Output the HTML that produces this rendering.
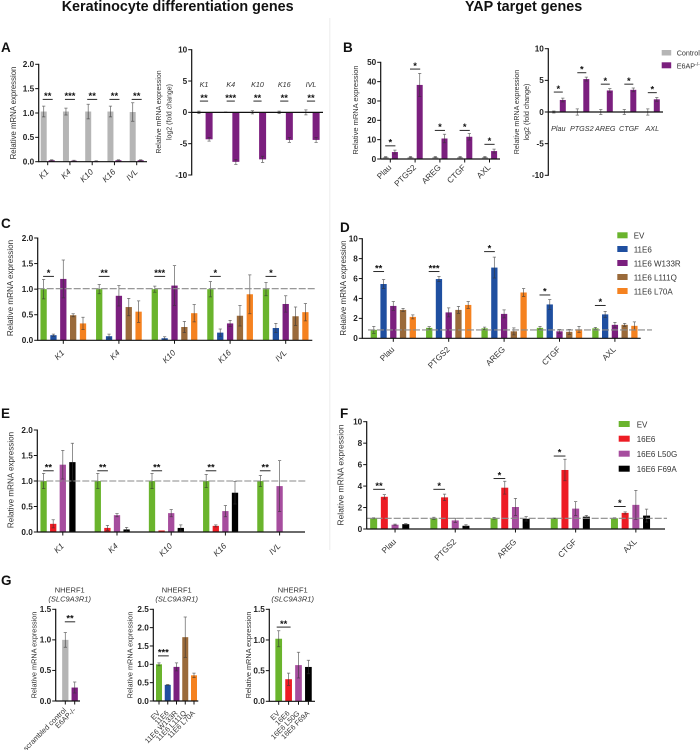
<!DOCTYPE html>
<html lang="en">
<head>
<meta charset="utf-8">
<title>Keratinocyte differentiation and YAP target genes</title>
<style>
html,body{margin:0;padding:0;background:#fff;}
#figure{display:block;width:700px;height:750px;filter:blur(0.3px);font-family:"Liberation Sans",sans-serif;}
text{font-family:"Liberation Sans",sans-serif;fill:#333;}
.head{font-size:14.35px;font-weight:bold;fill:#111;}
.letter{font-size:13.5px;font-weight:bold;fill:#111;}
.leg{font-size:8px;fill:#333;}
.legb{font-size:7.2px;fill:#333;}
</style>
</head>
<body>
<svg id="figure" xmlns="http://www.w3.org/2000/svg" width="700" height="750" viewBox="0 0 700 750">
  <text class="head" x="61.7" y="11">Keratinocyte differentiation genes</text>
  <text class="head" x="465" y="11">YAP target genes</text>
  <rect x="329.3" y="18" width="1" height="532" fill="#ececec"/>
  <text class="letter" x="1" y="52">A</text>
  <text class="letter" x="343" y="52">B</text>
  <text class="letter" x="1" y="228">C</text>
  <text class="letter" x="340" y="232">D</text>
  <text class="letter" x="1" y="418">E</text>
  <text class="letter" x="340" y="418">F</text>
  <text class="letter" x="1" y="585">G</text>

  <g>
    <g><rect x="661.7" y="50" width="9.5" height="5.5" fill="#b5b5b5"/><text class="legb" x="676.7" y="55.5">Control</text></g>
    <g><rect x="661.7" y="62.3" width="9.5" height="6" fill="#7b1f7e"/><text class="legb" x="676.7" y="68.3">E6AP<tspan font-size="5" dy="-2.5">-/-</tspan></text></g>
  </g>
  <g>
    <g><rect x="617.3" y="232.3" width="10.3" height="6" fill="#6ab42d"/><text class="leg" x="633.7" y="238.5">EV</text></g>
    <g><rect x="617.3" y="246" width="10.3" height="6" fill="#1f4fa0"/><text class="leg" x="633.7" y="252.5">11E6</text></g>
    <g><rect x="617.3" y="260" width="10.3" height="6" fill="#7b1f7e"/><text class="leg" x="633.7" y="266.5">11E6 W133R</text></g>
    <g><rect x="617.3" y="274" width="10.3" height="6" fill="#9a6a3a"/><text class="leg" x="633.7" y="280.5">11E6 L111Q</text></g>
    <g><rect x="617.3" y="288" width="10.3" height="6" fill="#f58220"/><text class="leg" x="633.7" y="294.5">11E6 L70A</text></g>
  </g>
  <g>
    <g><rect x="618.7" y="421" width="11" height="6" fill="#6ab42d"/><text class="leg" x="636.7" y="427.5">EV</text></g>
    <g><rect x="618.7" y="435.7" width="11" height="6" fill="#ed1c24"/><text class="leg" x="636.7" y="442">16E6</text></g>
    <g><rect x="618.7" y="450.7" width="11" height="6" fill="#a64d9e"/><text class="leg" x="636.7" y="457">16E6 L50G</text></g>
    <g><rect x="618.7" y="465.7" width="11" height="6" fill="#000"/><text class="leg" x="636.7" y="472">16E6 F69A</text></g>
  </g>
</svg>
<script>
// ---------- shared categories ----------
const keratinCategories = ['K1','K4','K10','K16','IVL'];
const yapCategories = ['Plau','PTGS2','AREG','CTGF','AXL'];

// ---------- tick arrays ----------
const ticksK2 = [0,0.5,1,1.5,2];
const ticksK2Labels = ['0.0','0.5','1.0','1.5','2.0'];
const ticksLog = [-10,-5,0,5,10];
const ticksLogLabels = ['-10','-5','0','5','10'];
const ticksB1 = [0,10,20,30,40,50];
const ticksB1Labels = ['0','10','20','30','40','50'];
const ticks10 = [0,2,4,6,8,10];
const ticks10Labels = ['0','2','4','6','8','10'];
const ticksG15 = [0,0.5,1,1.5];
const ticksG15Labels = ['0.0','0.5','1.0','1.5'];
const ticksG25 = [0,0.5,1,1.5,2,2.5];
const ticksG25Labels = ['0.0','0.5','1.0','1.5','2.0','2.5'];

// ---------- panel A left ----------
const a1Control = [1.03,1.03,1.03,1.03,1.02];
const a1ControlErr = [0.11,0.07,0.15,0.11,0.19];
const a1E6ap = [0.03,0.02,0.01,0.03,0.03];
const a1E6apErr = [0.01,0.01,0.01,0.01,0.01];
const a1Stars = ['**','***','**','**','**'];
const a1SigLevels = [1.28,1.28,1.28,1.28,1.28];

// ---------- panel A right ----------
const a2Control = [0,0,0,0,0];
const a2ControlErr = [0.2,0.05,0.25,0.2,0.4];
const a2E6ap = [-4.3,-7.9,-7.5,-4.4,-4.4];
const a2E6apErr = [0.3,0.4,0.5,0.4,0.4];
const a2Stars = ['**','***','**','**','**'];
const a2SigLevels = [1.8,1.8,1.8,1.8,1.8];

// ---------- panel B left ----------
const b1Control = [1,1,1,1,1];
const b1ControlErr = [0.2,0.3,0.3,0.3,0.3];
const b1E6ap = [3.6,38.3,10.6,11.5,4.1];
const b1E6apErr = [1,6,2.2,1.7,1];
const b1Stars = ['*','*','*','*','*'];
const b1SigLevels = [6.8,46.5,14.8,14.8,7.6];

// ---------- panel B right ----------
const b2Control = [0,0,0,0,0];
const b2ControlErr = [0.15,0.5,0.4,0.4,0.5];
const b2E6ap = [1.9,5.2,3.4,3.5,2.0];
const b2E6apErr = [0.3,0.3,0.3,0.3,0.3];
const b2Stars = ['*','*','*','*','*'];
const b2SigLevels = [3.15,6.2,4.4,4.4,3.05];

// ---------- panel C ----------
const cEv = [1,1,1,1,1];
const cEvErr = [0.19,0.09,0.06,0.15,0.13];
const c11e6 = [0.1,0.08,0.04,0.15,0.24];
const c11e6Err = [0.02,0.04,0.03,0.07,0.09];
const cW133r = [1.2,0.87,1.07,0.33,0.71];
const cW133rErr = [0.37,0.2,0.39,0.06,0.16];
const cL111q = [0.49,0.65,0.26,0.48,0.47];
const cL111qErr = [0.03,0.17,0.11,0.2,0.18];
const cL70a = [0.33,0.56,0.53,0.9,0.55];
const cL70aErr = [0.12,0.21,0.17,0.38,0.17];
const cStars = ['*','**','***','*','*'];
const cSigLevels = [1.25,1.25,1.25,1.25,1.25];
const cReference = [1.01];

// ---------- panel D ----------
const dEv = [0.85,1.05,1.0,1.05,1.0];
const dEvErr = [0.35,0.12,0.12,0.15,0.1];
const d11e6 = [5.45,5.95,7.1,3.4,2.4];
const d11e6Err = [0.45,0.25,1.05,0.5,0.3];
const dW133r = [3.25,2.6,2.45,0.7,1.35];
const dW133rErr = [0.45,0.45,0.4,0.2,0.25];
const dL111q = [2.85,2.85,0.7,0.65,1.35];
const dL111qErr = [0.15,0.35,0.35,0.25,0.15];
const dL70a = [2.15,3.35,4.6,0.9,1.25];
const dL70aErr = [0.2,0.35,0.4,0.3,0.4];
const dStars = ['**','***','*','*','*'];
const dSigLevels = [6.7,6.7,8.7,4.35,3.3];
const dReference = [0.84];

// ---------- panel E ----------
const eEv = [1,1,1,1,1];
const eEvErr = [0.15,0.15,0.15,0.13,0.11];
const e16e6 = [0.16,0.08,0.03,0.12,0];
const e16e6Err = [0.08,0.05,0,0.02,0];
const eL50g = [1.32,0.33,0.37,0.41,0.9];
const eL50gErr = [0.28,0.03,0.07,0.11,0.5];
const eF69a = [1.37,0.05,0.08,0.77,0];
const eF69aErr = [0.37,0.04,0.06,0.22,0];
const eStars = ['**','**','**','**','**'];
const eSigLevels = [1.2,1.2,1.2,1.2,1.2];
const eReference = [1];

// ---------- panel F ----------
const fEv = [1,1,1,1,1];
const fEvErr = [0.05,0.1,0.08,0.03,0.05];
const f16e6 = [3,2.95,3.85,5.5,1.5];
const f16e6Err = [0.2,0.3,0.6,1,0.1];
const fL50g = [0.4,0.8,2.05,1.9,2.25];
const fL50gErr = [0.05,0.2,0.8,0.65,1.35];
const fF69a = [0.45,0.3,0.95,1.15,1.25];
const fF69aErr = [0.05,0.1,0.2,0.12,0.6];
const fStars = ['**','*','*','*','*'];
const fSigLevels = [3.7,3.7,4.7,6.8,2.1];
const fReference = [1];

// ---------- panel G ----------
const g1Categories = ['scrambled control','E6AP-/-'];
const g1Values = [1.0,0.22];
const g1Errors = [0.12,0.09];
const g1Stars = ['**'];
const g1SigLevels = [1.295];
const g2Categories = ['EV','11E6','11E6 W133R','11E6 L111Q','11E6 L70A'];
const g2Values = [1,0.44,0.93,1.74,0.7];
const g2Errors = [0.04,0.01,0.11,0.55,0.06];
const g2Stars = ['***'];
const g2SigLevels = [1.23];
const g3Categories = ['EV','16E6','16E6 L50G','16E6 F69A'];
const g3Values = [1.02,0.36,0.59,0.56];
const g3Errors = [0.13,0.1,0.21,0.11];
const g3Stars = ['**'];
const g3SigLevels = [1.21];

// ---------- palette ----------
const GRAY='#b5b5b5', PURPLE='#7b1f7e', GREEN='#6ab42d', BLUE='#1f4fa0', BROWN='#9a6a3a', ORANGE='#f58220', RED='#ed1c24', LILAC='#a64d9e', BLACK='#000000';

const SVGNS = 'http://www.w3.org/2000/svg';
const root = document.getElementById('figure');

function mk(parent, tag, attrs, text) {
  const el = document.createElementNS(SVGNS, tag);
  for (const k in attrs) el.setAttribute(k, attrs[k]);
  if (text !== undefined) el.textContent = text;
  parent.appendChild(el);
  return el;
}

function drawChart(c) {
  const g = mk(root, 'g', {});
  
  

  const yScale = v => c.yBottom + (v - c.domain[0]) / (c.domain[1] - c.domain[0]) * (c.yTop - c.yBottom);
  const center = i => c.firstCenter + i * c.step;
  const nSer = c.series.length;
  const barX = (i, j) => center(i) + (j - (nSer - 1) / 2) * c.spacing;
  const zeroY = yScale(0);

  // bars + error bars
  c.series.forEach((s, j) => {
    s.values.forEach((v, i) => {
      const x = barX(i, j);
      const y1 = yScale(v);
      const bar = mk(g, 'rect', {x: x - c.barWidth / 2, y: Math.min(y1, zeroY), width: c.barWidth, height: Math.abs(y1 - zeroY), fill: s.colors ? s.colors[i] : s.color});
      
      
      const e = s.errors[i];
      if (e > 0) {
        const eb = mk(g, 'path', {d: 'M' + (x - 1.6) + ' ' + yScale(v + e) + 'H' + (x + 1.6) + 'M' + x + ' ' + yScale(v + e) + 'V' + yScale(v - e) + 'M' + (x - 1.6) + ' ' + yScale(v - e) + 'H' + (x + 1.6), stroke: '#333', 'stroke-opacity': 0.72, 'stroke-width': 0.75, fill: 'none'});
        
        
      }
    });
  });

  // reference line
  if (c.reference) {
    c.reference.forEach(r => {
      const ln = mk(g, 'line', {x1: c.refStart, x2: c.refEnd, y1: yScale(r), y2: yScale(r), stroke: '#8a8a8a', 'stroke-width': 1.1, 'stroke-dasharray': '7 2'});
      
      
    });
  }

  // axes
  const yAxis = mk(g, 'line', {x1: c.axisX, x2: c.axisX, y1: c.yTop - 0.5, y2: c.yBottom + 0.5, stroke: '#111', 'stroke-width': 1.2});
  
  
  const xAxis = mk(g, 'line', {x1: c.axisX, x2: c.xEnd, y1: zeroY, y2: zeroY, stroke: '#111', 'stroke-width': 1.2});
  
  

  // y ticks
  c.ticks.forEach((t, i) => {
    const y = yScale(t);
    const tk = mk(g, 'line', {x1: c.axisX - 3.5, x2: c.axisX, y1: y, y2: y, stroke: '#111', 'stroke-width': 1});
    
    
    const lb = mk(g, 'text', {x: c.axisX - 4.5, y: y + 2.8, 'text-anchor': 'end', 'font-size': 8.2, 'font-weight': 'bold', style: 'fill:#222'}, c.tickLabels[i]);
    
    
  });

  // x ticks + labels
  c.categories.forEach((cat, i) => {
    const x = center(i) + (c.tickOffset || 0);
    if (c.labelY === undefined) {
      const tk = mk(g, 'line', {x1: x, x2: x, y1: zeroY, y2: zeroY + 3.5, stroke: '#111', 'stroke-width': 1});
      
      
      const ax = x + 1.5, ay = zeroY + c.labelDy;
      const lb = mk(g, 'text', {x: ax, y: ay, 'text-anchor': 'end', 'font-size': c.labelSize || 8.2, 'font-style': c.italic ? 'italic' : 'normal', transform: 'rotate(-45 ' + ax + ' ' + ay + ')'}, cat);
      
      
    } else {
      const lb = mk(g, 'text', {x: x, y: c.labelY, 'text-anchor': 'middle', 'font-size': 7.2, 'font-style': 'italic'}, cat);
      
      
    }
  });

  // significance bars
  c.stars.forEach((st, i) => {
    const x1 = barX(i, 0) - (c.sigExt || 0);
    const x2 = (nSer > 1 ? barX(i, 1) : barX(i + 1, 0)) + (c.sigExt || 0);
    const y = yScale(c.sigLevels[i]);
    const ln = mk(g, 'line', {x1: x1, x2: x2, y1: y, y2: y, stroke: '#111', 'stroke-width': 0.9});
    
    
    const tx = mk(g, 'text', {x: (x1 + x2) / 2, y: y - 0.3, 'text-anchor': 'middle', 'font-size': 9.4, 'font-weight': 'bold', style: 'fill:#111'}, st);
    
    
  });

  // y axis title
  c.yTitle.forEach((line, i) => {
    const tx = c.yTitleX + i * c.yTitleGap;
    const t = mk(g, 'text', {x: tx, y: c.yTitleY, 'text-anchor': 'middle', 'font-size': c.yTitleSize, transform: 'rotate(-90 ' + tx + ' ' + c.yTitleY + ')'}, line);
    
    
  });

  // chart title
  if (c.title) {
    const t1 = mk(g, 'text', {x: c.titleX, y: 592.7, 'text-anchor': 'middle', 'font-size': 7.5}, c.title[0]);
    
    
    const t2 = mk(g, 'text', {x: c.titleX, y: 601.7, 'text-anchor': 'middle', 'font-size': 7.5, 'font-style': 'italic'}, c.title[1]);
    
    
  }
}

const REL = ['Relative mRNA expression'];
const REL2 = ['Relative mRNA expression','log2 (fold change)'];

drawChart({name:'chart-a-relative', axisX:38.7, xEnd:147, yTop:64.3, yBottom:161.7, domain:[0,2], ticks:ticksK2, tickLabels:ticksK2Labels,
  categories:keratinCategories, firstCenter:47.7, step:22.25, spacing:8, barWidth:6, italic:true, labelDy:10.7,
  series:[{name:'control',values:a1Control,errors:a1ControlErr,color:GRAY},{name:'e6ap',values:a1E6ap,errors:a1E6apErr,color:PURPLE}],
  stars:a1Stars, sigLevels:a1SigLevels, sigExt:1, yTitle:REL, yTitleX:16, yTitleGap:0, yTitleY:113, yTitleSize:7.8});

drawChart({name:'chart-a-log2', axisX:191.7, xEnd:323, yTop:49.7, yBottom:175, domain:[-10,10], ticks:ticksLog, tickLabels:ticksLogLabels,
  categories:keratinCategories, firstCenter:204, step:26.75, spacing:10.2, barWidth:7, labelY:87,
  series:[{name:'control',values:a2Control,errors:a2ControlErr,color:GRAY},{name:'e6ap',values:a2E6ap,errors:a2E6apErr,color:PURPLE}],
  stars:a2Stars, sigLevels:a2SigLevels, sigExt:-1, yTitle:REL2, yTitleX:161, yTitleGap:10.3, yTitleY:112, yTitleSize:7});

drawChart({name:'chart-b-relative', axisX:380.7, xEnd:500, yTop:62.3, yBottom:159, domain:[0,50], ticks:ticksB1, tickLabels:ticksB1Labels,
  categories:yapCategories, firstCenter:390.3, step:24.8, spacing:9.2, barWidth:6, labelDy:9,
  series:[{name:'control',values:b1Control,errors:b1ControlErr,color:GRAY},{name:'e6ap',values:b1E6ap,errors:b1E6apErr,color:PURPLE}],
  stars:b1Stars, sigLevels:b1SigLevels, sigExt:0.5, yTitle:REL, yTitleX:358, yTitleGap:0, yTitleY:110, yTitleSize:7.5});

drawChart({name:'chart-b-log2', axisX:548.3, xEnd:663, yTop:48.7, yBottom:175.3, domain:[-10,10], ticks:ticksLog, tickLabels:ticksLogLabels,
  categories:yapCategories, firstCenter:558.3, step:23.5, spacing:9, barWidth:6, labelY:131,
  series:[{name:'control',values:b2Control,errors:b2ControlErr,color:GRAY},{name:'e6ap',values:b2E6ap,errors:b2E6apErr,color:PURPLE}],
  stars:b2Stars, sigLevels:b2SigLevels, sigExt:0, yTitle:REL2, yTitleX:519, yTitleGap:10, yTitleY:112, yTitleSize:7.1});

drawChart({name:'chart-c', axisX:37.7, xEnd:312.3, yTop:238, yBottom:340.3, domain:[0,2], ticks:ticksK2, tickLabels:ticksK2Labels,
  categories:keratinCategories, firstCenter:63.3, step:55.6, spacing:9.85, barWidth:6.3, italic:true, labelDy:13,
  series:[{name:'ev',values:cEv,errors:cEvErr,color:GREEN},{name:'11e6',values:c11e6,errors:c11e6Err,color:BLUE},{name:'w133r',values:cW133r,errors:cW133rErr,color:PURPLE},{name:'l111q',values:cL111q,errors:cL111qErr,color:BROWN},{name:'l70a',values:cL70a,errors:cL70aErr,color:ORANGE}],
  reference:cReference, refStart:37.7, refEnd:315, stars:cStars, sigLevels:cSigLevels, sigExt:0.5,
  yTitle:REL, yTitleX:13, yTitleGap:0, yTitleY:288, yTitleSize:8.1});

drawChart({name:'chart-d', axisX:362.3, xEnd:640.7, yTop:238.7, yBottom:338.3, domain:[0,10], ticks:ticks10, tickLabels:ticks10Labels,
  categories:yapCategories, firstCenter:393.3, step:55.4, spacing:9.75, barWidth:6.3, labelDy:11.7,
  series:[{name:'ev',values:dEv,errors:dEvErr,color:GREEN},{name:'11e6',values:d11e6,errors:d11e6Err,color:BLUE},{name:'w133r',values:dW133r,errors:dW133rErr,color:PURPLE},{name:'l111q',values:dL111q,errors:dL111qErr,color:BROWN},{name:'l70a',values:dL70a,errors:dL70aErr,color:ORANGE}],
  reference:dReference, refStart:368, refEnd:652, stars:dStars, sigLevels:dSigLevels, sigExt:0.5,
  yTitle:REL, yTitleX:346, yTitleGap:0, yTitleY:288, yTitleSize:8});

drawChart({name:'chart-e', axisX:37.3, xEnd:305, yTop:430, yBottom:532, domain:[0,2], ticks:ticksK2, tickLabels:ticksK2Labels,
  categories:keratinCategories, firstCenter:58, step:54.2, spacing:9.6, barWidth:6.3, italic:true, tickOffset:4.8, labelDy:14.5,
  series:[{name:'ev',values:eEv,errors:eEvErr,color:GREEN},{name:'16e6',values:e16e6,errors:e16e6Err,color:RED},{name:'l50g',values:eL50g,errors:eL50gErr,color:LILAC},{name:'f69a',values:eF69a,errors:eF69aErr,color:BLACK}],
  reference:eReference, refStart:37.3, refEnd:307, stars:eStars, sigLevels:eSigLevels, sigExt:0.5,
  yTitle:REL, yTitleX:13.5, yTitleGap:0, yTitleY:480, yTitleSize:8.1});

drawChart({name:'chart-f', axisX:366.7, xEnd:665, yTop:421.7, yBottom:529, domain:[0,10], ticks:ticks10, tickLabels:ticks10Labels,
  categories:yapCategories, firstCenter:389.7, step:60.2, spacing:10.7, barWidth:7, tickOffset:5.35, labelDy:13.3,
  series:[{name:'ev',values:fEv,errors:fEvErr,color:GREEN},{name:'16e6',values:f16e6,errors:f16e6Err,color:RED},{name:'l50g',values:fL50g,errors:fL50gErr,color:LILAC},{name:'f69a',values:fF69a,errors:fF69aErr,color:BLACK}],
  reference:fReference, refStart:366.7, refEnd:667, stars:fStars, sigLevels:fSigLevels, sigExt:0.5,
  yTitle:REL, yTitleX:343.5, yTitleGap:0, yTitleY:475, yTitleSize:8.5});

drawChart({name:'chart-g-e6ap', axisX:55.7, xEnd:80, yTop:609.3, yBottom:701, domain:[0,1.5], ticks:ticksG15, tickLabels:ticksG15Labels,
  categories:g1Categories, firstCenter:65.3, step:9.4, spacing:0, barWidth:6.3, labelSize:7.3, labelDy:9.7,
  series:[{name:'nherf1',values:g1Values,errors:g1Errors,colors:[GRAY,PURPLE]}],
  stars:g1Stars, sigLevels:g1SigLevels, sigExt:0.5, yTitle:REL, yTitleX:36.5, yTitleGap:0, yTitleY:655, yTitleSize:7.3,
  title:['NHERF1','(SLC9A3R1)'], titleX:69.7});

drawChart({name:'chart-g-11e6', axisX:153.3, xEnd:198.3, yTop:609.3, yBottom:701, domain:[0,2.5], ticks:ticksG25, tickLabels:ticksG25Labels,
  categories:g2Categories, firstCenter:159, step:8.75, spacing:0, barWidth:6, labelSize:7.3, labelDy:12.5,
  series:[{name:'nherf1',values:g2Values,errors:g2Errors,colors:[GREEN,BLUE,PURPLE,BROWN,ORANGE]}],
  stars:g2Stars, sigLevels:g2SigLevels, sigExt:1, yTitle:REL, yTitleX:132.5, yTitleGap:0, yTitleY:655, yTitleSize:7.3,
  title:['NHERF1','(SLC9A3R1)'], titleX:176.7});

drawChart({name:'chart-g-16e6', axisX:269.3, xEnd:315, yTop:609.3, yBottom:701.3, domain:[0,1.5], ticks:ticksG15, tickLabels:ticksG15Labels,
  categories:g3Categories, firstCenter:278.7, step:9.9, spacing:0, barWidth:6.7, labelSize:7.3, labelDy:12.5,
  series:[{name:'nherf1',values:g3Values,errors:g3Errors,colors:[GREEN,RED,LILAC,BLACK]}],
  stars:g3Stars, sigLevels:g3SigLevels, sigExt:2, yTitle:REL, yTitleX:250.8, yTitleGap:0, yTitleY:655, yTitleSize:7.3,
  title:['NHERF1','(SLC9A3R1)'], titleX:292.7});
</script>
</body>
</html>
